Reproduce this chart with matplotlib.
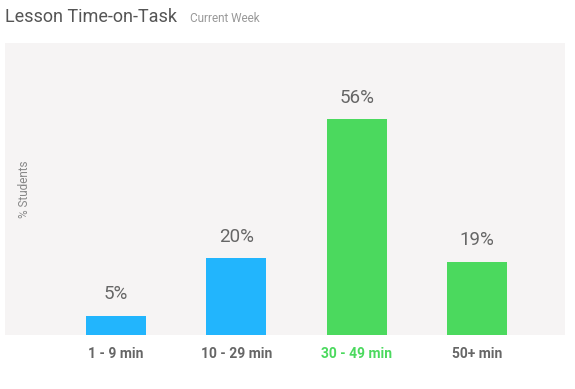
import matplotlib.pyplot as plt

plt.rcParams['font.family'] = ['Roboto', 'DejaVu Sans']

categories = ['1 - 9 min', '10 - 29 min', '30 - 49 min', '50+ min']
values = [5, 20, 56, 19]
bar_colors = ['#22b5fd', '#22b5fd', '#4bd95e', '#4bd95e']
tick_colors = ['#666666', '#666666', '#4bd95e', '#666666']

fig = plt.figure(figsize=(5.75, 3.89), dpi=100)
ax = fig.add_axes([5/575, 1 - 335/389, 560/575, 292/389])
ax.set_facecolor('#f6f4f4')

x = list(range(len(categories)))
ax.bar(x, values, width=0.5, color=bar_colors)
for xi, v in zip(x, values):
    ax.text(xi, v + 3.2, f'{v}%', ha='center', va='bottom', fontsize=13.5, color='#666666')

ax.set_xlim(-0.92, 3.73)
ax.set_ylim(0, 75.7)
ax.set_yticks([])
ax.set_xticks(x)
ax.set_xticklabels(categories, fontsize=10, fontweight='bold')
for lbl, c in zip(ax.get_xticklabels(), tick_colors):
    lbl.set_color(c)
ax.tick_params(axis='x', length=0, pad=9)
for s in ax.spines.values():
    s.set_visible(False)

fig.text(24/575, 1 - 189/389, '% Students', rotation=90, ha='center', va='center',
         fontsize=8.5, color='#888888')
fig.text(5/575, 1 - 17/389, 'Lesson Time-on-Task', ha='left', va='center',
         fontsize=13, color='#555555')
fig.text(190/575, 1 - 18/389, 'Current Week', ha='left', va='center',
         fontsize=8.5, color='#999999')

fig.savefig('out.png', dpi=100, facecolor='white')
